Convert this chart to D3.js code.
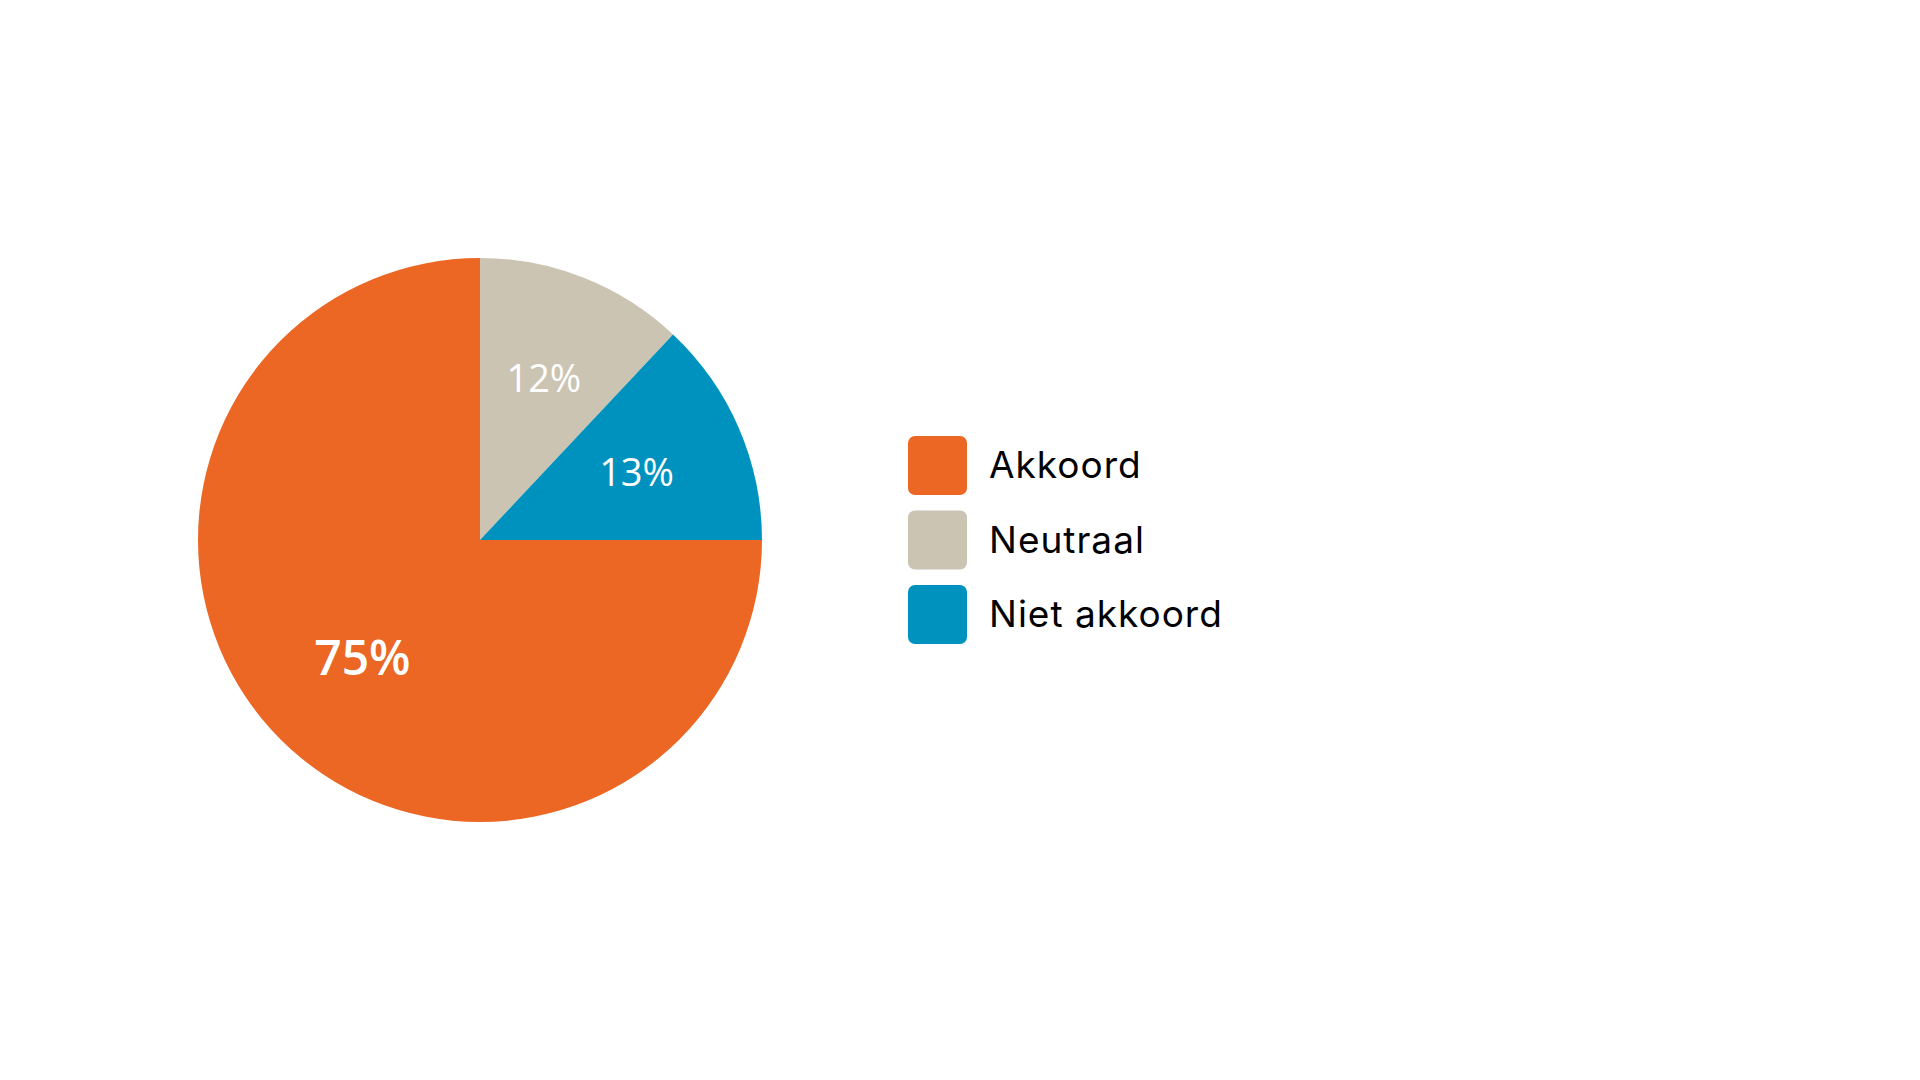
<!DOCTYPE html>
<html>
<head>
<meta charset="utf-8">
<script src="https://cdn.jsdelivr.net/npm/d3@7"></script>
<style>
  html, body { margin: 0; padding: 0; background: #fff; }
</style>
</head>
<body>
<svg id="chart" width="1920" height="1080"></svg>
<script>
const WIDTH = 1920;
const HEIGHT = 1080;

const categories = ["Akkoord", "Neutraal", "Niet akkoord"];
const values = [75, 12, 13];
const colors = ["#EC6624", "#CCC4B2", "#0092BE"];

const CENTER = { x: 480, y: 540 };
const RADIUS = 282;

const svg = d3.select("#chart");

const data = categories.map((name, i) => ({ name, value: values[i] }));

// Akkoord starts at 3 o'clock and runs clockwise round to 12
const pie = d3
  .pie()
  .sort(null)
  .value(d => d.value)
  .startAngle(Math.PI / 2)
  .endAngle(Math.PI / 2 + 2 * Math.PI);

const arcs = pie(data);

const arc = d3.arc().innerRadius(0).outerRadius(RADIUS);

const color = d3.scaleOrdinal().domain(categories).range(colors);

const g = svg
  .append("g")
  .attr("transform", `translate(${CENTER.x},${CENTER.y})`);

g.selectAll("path")
  .data(arcs)
  .join("path")
  .attr("d", arc)
  .attr("fill", d => color(d.data.name));

// label distance from centre, as a share of the radius
const labelRadius = [0.59, 0.615, 0.605];

g.selectAll("text")
  .data(arcs)
  .join("text")
  .attr("transform", (d, i) => {
    const r = RADIUS * labelRadius[i];
    const a = (d.startAngle + d.endAngle) / 2;
    return `translate(${Math.sin(a) * r},${-Math.cos(a) * r})`;
  })
  .attr("text-anchor", "middle")
  .attr("dy", "0.36em")
  .attr("fill", "#fff")
  .attr("font-family", "'Open Sans', sans-serif")
  .attr("font-size", d => (d.data.value > 50 ? 48 : 38))
  .attr("font-weight", d => (d.data.value > 50 ? 600 : 400))
  .text(d => `${d.data.value}%`);

// legend
const legend = svg
  .append("g")
  .attr("transform", "translate(908,436)");

const item = legend
  .selectAll("g")
  .data(categories)
  .join("g")
  .attr("transform", (d, i) => `translate(0,${i * 74.5})`);

item
  .append("rect")
  .attr("width", 59)
  .attr("height", 59)
  .attr("rx", 7)
  .attr("fill", d => color(d));

item
  .append("text")
  .attr("x", 81)
  .attr("y", 29.5)
  .attr("dy", "0.35em")
  .attr("fill", "#000")
  .attr("font-family", "Inter, 'Noto Sans', sans-serif")
  .attr("font-size", 37)
  .attr("letter-spacing", 1)
  .text(d => d);
</script>
</body>
</html>
